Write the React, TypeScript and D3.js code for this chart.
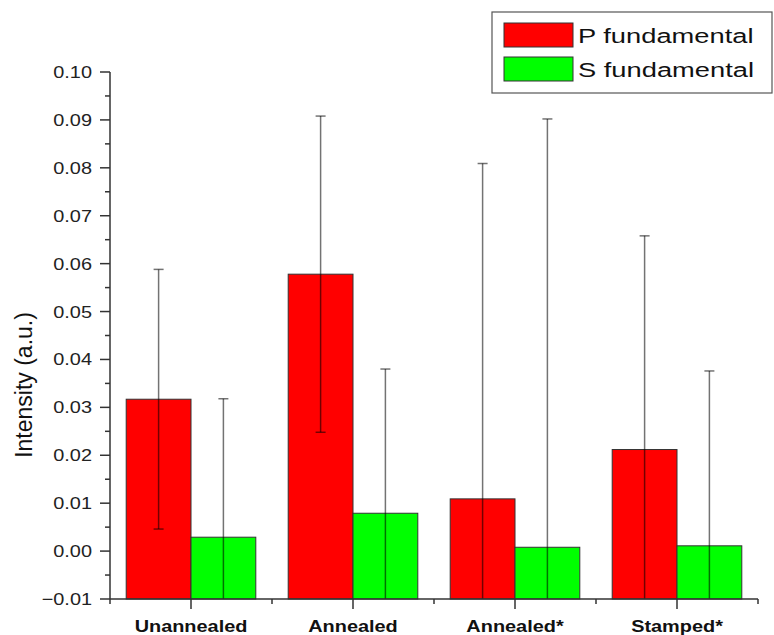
import React from "react";
import * as d3 from "d3";

const categories = ["Unannealed", "Annealed", "Annealed*", "Stamped*"];
const seriesNames = ["P fundamental", "S fundamental"];
const seriesColors = ["#ff0000", "#00ff00"];
const pValues = [0.0317, 0.0578, 0.0109, 0.0212];
const pErrors = [0.0271, 0.033, 0.070, 0.0446];
const sValues = [0.0029, 0.0079, 0.0008, 0.0011];
const sErrors = [0.0289, 0.0301, 0.0894, 0.0365];
const yTicks = [-0.01, 0, 0.01, 0.02, 0.03, 0.04, 0.05, 0.06, 0.07, 0.08, 0.09, 0.1];

const W = 774;
const H = 635;
const margin = { left: 110, right: 16, top: 72, bottom: 36 };

export default function App() {
  const x = d3
    .scaleBand<string>()
    .domain(categories)
    .range([margin.left, W - margin.right])
    .paddingInner(0)
    .paddingOuter(0);
  const inner = d3
    .scaleBand<number>()
    .domain([0, 1])
    .range([x.bandwidth() * 0.1, x.bandwidth() * 0.9])
    .padding(0);
  const y = d3.scaleLinear().domain([-0.01, 0.1]).range([H - margin.bottom, margin.top]);

  const series = [
    { values: pValues, errors: pErrors },
    { values: sValues, errors: sErrors },
  ];

  const minorY = d3.range(-0.005, 0.1, 0.01);
  const bandEdges = categories.map((c) => x(c)!).concat([x(categories[3])! + x.bandwidth()]);
  const axisColor = "#333";
  const [y0, y1] = y.domain();

  return (
    <svg
      width={W}
      height={H}
      style={{ position: "absolute", left: 0, top: 0, background: "white" }}
      fontFamily="'Liberation Sans', Arial, sans-serif"
    >
      {/* bars */}
      {series.map((s, si) =>
        categories.map((c, i) => {
          const bx = x(c)! + inner(si)!;
          const v = s.values[i];
          return (
            <rect
              key={`b${si}-${i}`}
              x={bx}
              y={y(v)}
              width={inner.bandwidth()}
              height={y(y0) - y(v)}
              fill={seriesColors[si]}
              stroke="#333"
              strokeWidth={1}
            />
          );
        })
      )}

      {/* error bars */}
      {series.map((s, si) =>
        categories.map((c, i) => {
          const cx = x(c)! + inner(si)! + inner.bandwidth() / 2;
          const hi = s.values[i] + s.errors[i];
          const lo = s.values[i] - s.errors[i];
          const loClip = Math.max(lo, y0);
          const hiClip = Math.min(hi, y1);
          return (
            <g key={`e${si}-${i}`} stroke="#000" strokeOpacity={0.55} strokeWidth={1.5}>
              <line x1={cx} x2={cx} y1={y(hiClip)} y2={y(loClip)} />
              {hi <= y1 && <line x1={cx - 5} x2={cx + 5} y1={y(hi)} y2={y(hi)} />}
              {lo >= y0 && <line x1={cx - 5} x2={cx + 5} y1={y(lo)} y2={y(lo)} />}
            </g>
          );
        })
      )}

      {/* y axis */}
      <g stroke={axisColor} strokeWidth={1.5}>
        <line x1={margin.left} x2={margin.left} y1={y(y1)} y2={y(y0)} />
        {yTicks.map((t) => (
          <line key={`yt${t}`} x1={margin.left - 10} x2={margin.left} y1={y(t)} y2={y(t)} />
        ))}
        {minorY.map((t) => (
          <line key={`ym${t}`} x1={margin.left - 5} x2={margin.left} y1={y(t)} y2={y(t)} />
        ))}
      </g>
      {yTicks.map((t) => (
        <text
          key={`yl${t}`}
          transform={`translate(${margin.left - 18},${y(t) + 6}) scale(1.17,1)`}
          textAnchor="end"
          fontSize={17}
          fill="#222"
        >
          {d3.format(".2f")(t)}
        </text>
      ))}

      {/* x axis */}
      <g stroke={axisColor} strokeWidth={1.5}>
        <line x1={margin.left} x2={W - margin.right} y1={y(y0)} y2={y(y0)} />
        {categories.map((c) => {
          const cx = x(c)! + x.bandwidth() / 2;
          return <line key={`xt${c}`} x1={cx} x2={cx} y1={y(y0)} y2={y(y0) + 10} />;
        })}
        {bandEdges.map((e, i) => (
          <line key={`xm${i}`} x1={e} x2={e} y1={y(y0)} y2={y(y0) + 5} />
        ))}
      </g>
      {categories.map((c) => (
        <text
          key={`xl${c}`}
          transform={`translate(${x(c)! + x.bandwidth() / 2},${H - 3}) scale(1.17,1)`}
          textAnchor="middle"
          fontSize={17}
          fontWeight="bold"
          fill="#111"
        >
          {c}
        </text>
      ))}

      {/* y label */}
      <text
        transform={`translate(32,385) rotate(-90)`}
        textAnchor="middle"
        fontSize={23}
        fill="#111"
      >
        Intensity (a.u.)
      </text>

      {/* legend */}
      <g>
        <rect x={492} y={12} width={280} height={81} fill="white" stroke="#555" strokeWidth={1.2} />
        {seriesNames.map((n, i) => (
          <g key={n} transform={`translate(504,${23 + i * 34})`}>
            <rect width={69} height={24} fill={seriesColors[i]} stroke="#333" strokeWidth={1} />
            <text transform="translate(74,20) scale(1.3,1)" fontSize={21} fill="#111">
              {n}
            </text>
          </g>
        ))}
      </g>
    </svg>
  );
}
